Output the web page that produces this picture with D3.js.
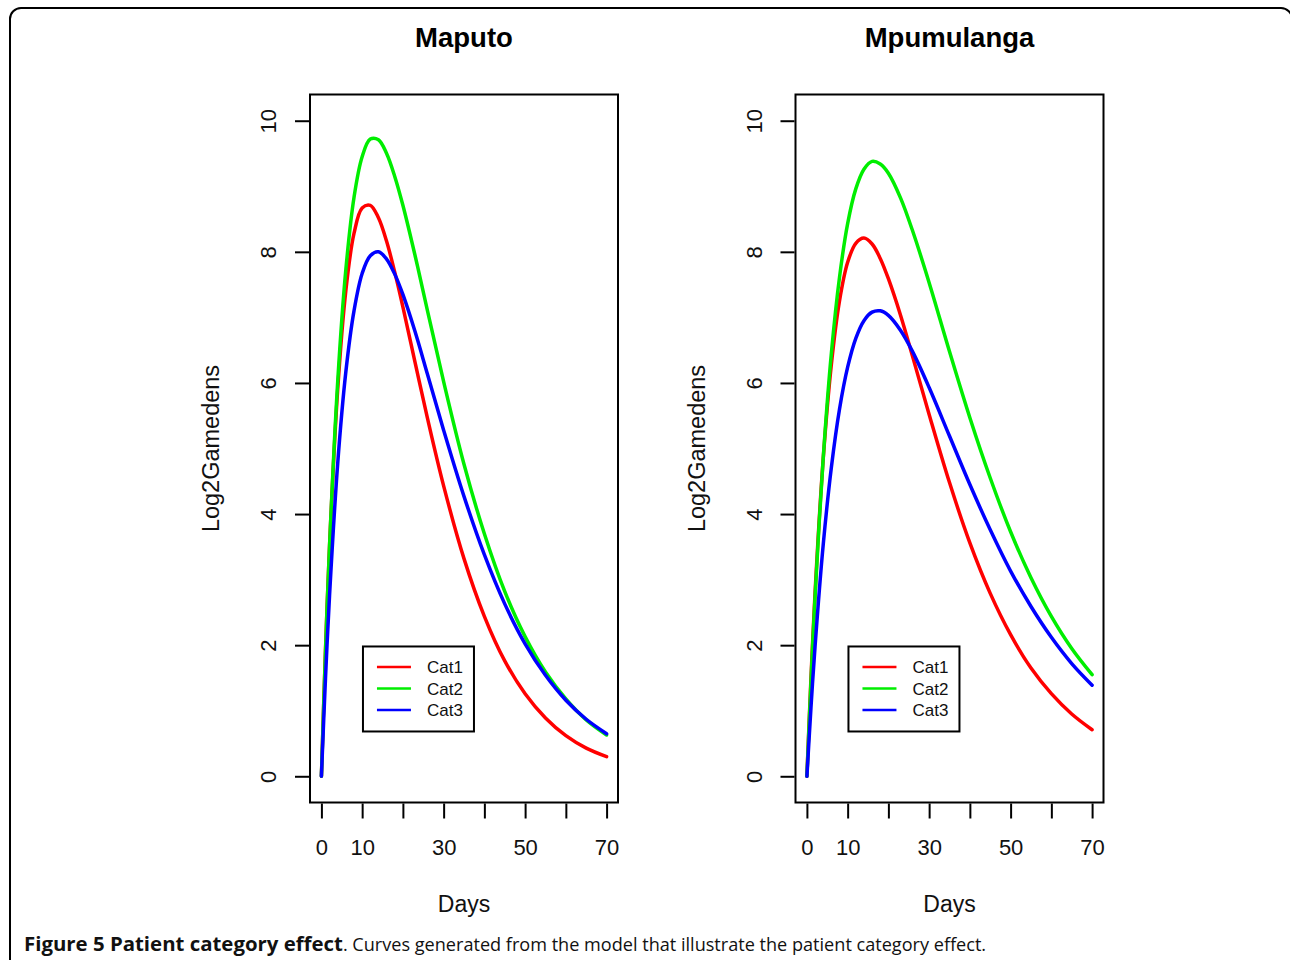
<!DOCTYPE html>
<html>
<head>
<meta charset="utf-8">
<script src="https://cdn.jsdelivr.net/npm/d3@7"></script>
<style>
  body { margin: 0; background: #fff; }
</style>
</head>
<body>
<svg id="fig" width="1290" height="960"></svg>
<script>
var days = [0, 1, 2, 4, 6, 8, 10, 12, 14, 16, 18, 20, 23, 26, 30, 35, 40, 45, 50, 55, 60, 65, 70];

// Maputo, log2 gametocyte density by patient category
var maputoCat1 = [0, 1.92, 3.52, 5.90, 7.41, 8.28, 8.67, 8.71, 8.52, 8.16, 7.69, 7.16, 6.31, 5.47, 4.43, 3.32, 2.44, 1.76, 1.26, 0.89, 0.62, 0.43, 0.30];
var maputoCat2 = [0, 1.90, 3.52, 6.02, 7.73, 8.83, 9.45, 9.72, 9.71, 9.50, 9.15, 8.71, 7.94, 7.11, 6.02, 4.76, 3.70, 2.82, 2.13, 1.59, 1.18, 0.86, 0.63];
var maputoCat3 = [0, 1.49, 2.76, 4.77, 6.17, 7.10, 7.67, 7.94, 8.00, 7.89, 7.66, 7.35, 6.78, 6.14, 5.28, 4.27, 3.38, 2.63, 2.02, 1.54, 1.16, 0.87, 0.65];

// Mpumulanga
var mpumCat1 = [0, 1.50, 2.80, 4.84, 6.28, 7.25, 7.84, 8.13, 8.21, 8.12, 7.90, 7.59, 7.03, 6.39, 5.52, 4.48, 3.56, 2.79, 2.16, 1.65, 1.26, 0.95, 0.71];
var mpumCat2 = [0, 1.45, 2.74, 4.85, 6.45, 7.61, 8.43, 8.96, 9.26, 9.38, 9.34, 9.20, 8.82, 8.31, 7.53, 6.48, 5.47, 4.55, 3.73, 3.03, 2.44, 1.95, 1.55];
var mpumCat3 = [0, 1.05, 1.98, 3.53, 4.71, 5.60, 6.24, 6.68, 6.95, 7.08, 7.10, 7.03, 6.80, 6.47, 5.93, 5.19, 4.45, 3.76, 3.13, 2.59, 2.12, 1.72, 1.39];

var categories = ["Cat1", "Cat2", "Cat3"];
var catColors = ["#ff0000", "#00ee00", "#0000ff"];
var xTicks = [0, 10, 20, 30, 40, 50, 60, 70];
var xTickLabels = ["0", "10", "", "30", "", "50", "", "70"]; // R drops the crowded ones
var yTicks = [0, 2, 4, 6, 8, 10];

var plotFont = '"Liberation Sans", Arial, Helvetica, sans-serif';

var svg = d3.select('#fig');

// outer figure frame, bottom and right run off the page
svg.append('rect')
  .attr('x', 10).attr('y', 8)
  .attr('width', 1282).attr('height', 1000)
  .attr('rx', 11)
  .attr('fill', 'none')
  .attr('stroke', '#000')
  .attr('stroke-width', 2);

var panels = [
  { title: "Maputo", left: 310, series: [maputoCat1, maputoCat2, maputoCat3] },
  { title: "Mpumulanga", left: 795.5, series: [mpumCat1, mpumCat2, mpumCat3] }
];

var boxW = 308,
  boxTop = 94.5,
  boxBottom = 802.5;

panels.forEach(function(p) {
  var x = d3.scaleLinear().domain([-2.8, 72.8]).range([p.left, p.left + boxW]);
  var y = d3.scaleLinear().domain([-0.4, 10.4]).range([boxBottom, boxTop]);
  var g = svg.append('g').attr('font-family', plotFont);

  var line = d3.line()
    .x(function(d, i) { return x(days[i]); })
    .y(function(d) { return y(d); })
    .curve(d3.curveCatmullRom.alpha(0.5));

  p.series.forEach(function(s, i) {
    g.append('path')
      .attr('d', line(s))
      .attr('fill', 'none')
      .attr('stroke', catColors[i])
      .attr('stroke-width', 3.5)
      .attr('stroke-linecap', 'round');
  });

  // plot box
  g.append('rect')
    .attr('x', p.left).attr('y', boxTop)
    .attr('width', boxW).attr('height', boxBottom - boxTop)
    .attr('fill', 'none').attr('stroke', '#000').attr('stroke-width', 2);

  // x axis
  var xAxis = d3.axisBottom(x)
    .tickValues(xTicks)
    .tickSize(15)
    .tickPadding(21)
    .tickFormat(function(d, i) { return xTickLabels[i]; });
  var xg = g.append('g')
    .attr('transform', 'translate(0,' + (boxBottom + 1) + ')')
    .call(xAxis)
    .attr('font-family', plotFont)
    .attr('font-size', 22);
  xg.select('.domain').remove();
  xg.selectAll('line').attr('stroke', '#000').attr('stroke-width', 2);
  xg.selectAll('text').attr('fill', '#111');

  // y axis
  var yAxis = d3.axisLeft(y)
    .tickValues(yTicks)
    .tickSize(14)
    .tickFormat(d3.format('d'));
  var yg = g.append('g')
    .attr('transform', 'translate(' + (p.left - 1) + ',0)')
    .call(yAxis)
    .attr('font-family', plotFont)
    .attr('font-size', 22);
  yg.select('.domain').remove();
  yg.selectAll('line').attr('stroke', '#000').attr('stroke-width', 2);
  yg.selectAll('text')
    .attr('x', 0).attr('y', 0).attr('dy', null)
    .attr('text-anchor', 'middle')
    .attr('transform', 'translate(-33,0) rotate(-90)')
    .attr('fill', '#111');

  // titles
  g.append('text')
    .attr('x', p.left + boxW / 2).attr('y', 47)
    .attr('text-anchor', 'middle')
    .attr('font-size', 27.5)
    .attr('font-weight', 'bold')
    .text(p.title);

  g.append('text')
    .attr('x', p.left + boxW / 2).attr('y', 912)
    .attr('text-anchor', 'middle')
    .attr('font-size', 23)
    .attr('fill', '#111')
    .text("Days");

  g.append('text')
    .attr('transform', 'translate(' + (p.left - 91) + ',' + ((boxTop + boxBottom) / 2) + ') rotate(-90)')
    .attr('text-anchor', 'middle')
    .attr('font-size', 23.5)
    .attr('fill', '#111')
    .text("Log2Gamedens");

  // legend placed at (day 10, 2) as in the original plot
  var lx = x(10.2), ly = y(1.98);
  var leg = g.append('g').attr('transform', 'translate(' + lx + ',' + ly + ')');
  leg.append('rect')
    .attr('width', 111).attr('height', 85)
    .attr('fill', '#fff').attr('stroke', '#000').attr('stroke-width', 2);
  categories.forEach(function(c, i) {
    var yy = 20.5 + i * 21.5;
    leg.append('line')
      .attr('x1', 14).attr('x2', 48)
      .attr('y1', yy).attr('y2', yy)
      .attr('stroke', catColors[i]).attr('stroke-width', 2.5);
    leg.append('text')
      .attr('x', 64).attr('y', yy)
      .attr('dy', '0.36em')
      .attr('font-size', 17)
      .attr('fill', '#111')
      .text(c);
  });
});

// caption
var cap = svg.append('text')
  .attr('font-family', '"Open Sans", sans-serif')
  .attr('x', 24).attr('y', 951)
  .attr('fill', '#111');
cap.append('tspan').attr('font-weight', 'bold').attr('font-size', 20.4).text("Figure 5 Patient category effect");
cap.append('tspan').attr('font-size', 18.1).text(". Curves generated from the model that illustrate the patient category effect.");
</script>
</body>
</html>
